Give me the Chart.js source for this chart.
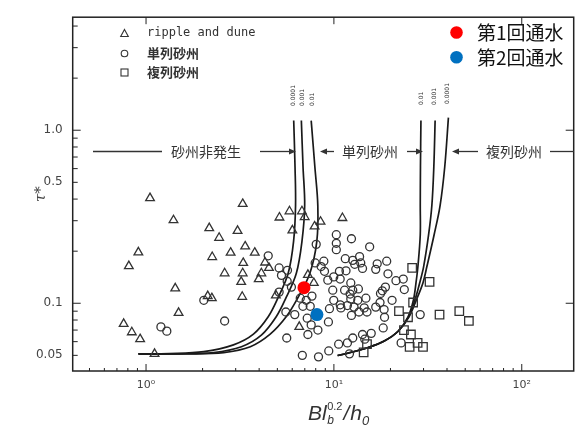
<!DOCTYPE html>
<html>
<head>
<meta charset="utf-8">
<script src="https://cdn.jsdelivr.net/npm/chart.js@4.4.1/dist/chart.umd.min.js"></script>
<style>
html, body { margin: 0; padding: 0; background: #fff; }
#wrap { width: 581px; height: 429px; position: relative; }
</style>
</head>
<body>
<div id="wrap"><canvas id="chart"></canvas></div>
<script>
// ripple and dune (三角)
var rippleX = [1.05, 3.27, 1.40, 2.17, 2.45, 3.07, 0.91, 0.81, 2.25, 2.82, 3.37, 3.79, 3.29, 2.62, 3.27, 3.21, 4.11, 3.98, 4.30, 4.51,
               1.43, 2.13, 2.24, 3.25, 1.49, 0.76, 0.84, 0.93, 1.11, 5.13, 5.80, 6.76, 6.99, 6.01, 4.91, 6.54, 7.27, 7.89, 7.82, 8.49, 11.1];
var rippleY = [0.405, 0.375, 0.302, 0.272, 0.239, 0.262, 0.197, 0.164, 0.185, 0.196, 0.213, 0.196, 0.171, 0.149, 0.149, 0.133, 0.149, 0.138, 0.172, 0.160,
               0.122, 0.110, 0.107, 0.109, 0.088, 0.076, 0.068, 0.062, 0.051, 0.313, 0.340, 0.340, 0.315, 0.264, 0.111, 0.073, 0.146, 0.278, 0.131, 0.296, 0.311];

// 単列砂州 (丸)
var singleX = [4.47, 2.03, 2.62, 1.20, 1.29, 5.11, 5.26, 5.66, 5.64, 5.94, 5.11, 5.55, 6.19, 5.61, 6.79, 6.62, 7.12, 7.64, 6.84, 7.48,
               7.21, 7.57, 8.05, 7.95, 10.3, 12.4, 10.3, 10.3, 15.5, 11.5, 12.6, 13.7, 13.9, 12.9, 17.0, 19.1, 16.7, 8.84, 8.55, 8.91,
               10.7, 11.6, 14.2, 9.98, 9.28, 10.8, 12.3, 19.4, 21.4, 23.4, 9.86, 11.4, 12.6, 13.5, 18.1, 18.8, 23.7, 14.8, 12.3, 13.4,
               9.98, 10.8, 11.8, 12.8, 14.5, 16.7, 17.6, 20.4, 9.47, 10.9, 12.4, 15.0, 18.5, 18.6, 9.35, 7.27, 8.22, 18.3, 14.2, 15.8,
               14.6, 12.6, 11.8, 10.6, 9.39, 12.1, 8.28, 28.8, 22.8, 12.2, 17.7, 13.6];
var singleY = [0.188, 0.104, 0.079, 0.073, 0.069, 0.160, 0.145, 0.155, 0.134, 0.124, 0.116, 0.089, 0.086, 0.063, 0.050, 0.107, 0.104, 0.110, 0.096, 0.096,
               0.082, 0.075, 0.219, 0.171, 0.249, 0.236, 0.222, 0.204, 0.212, 0.181, 0.177, 0.186, 0.171, 0.168, 0.169, 0.175, 0.157, 0.175, 0.163, 0.153,
               0.153, 0.154, 0.159, 0.142, 0.136, 0.138, 0.131, 0.148, 0.135, 0.138, 0.119, 0.119, 0.119, 0.121, 0.118, 0.124, 0.120, 0.107, 0.106, 0.104,
               0.104, 0.098, 0.097, 0.095, 0.094, 0.095, 0.101, 0.104, 0.093, 0.094, 0.085, 0.089, 0.092, 0.083, 0.078, 0.066, 0.070, 0.072, 0.066, 0.067,
               0.062, 0.063, 0.059, 0.058, 0.053, 0.051, 0.049, 0.086, 0.059, 0.113, 0.114, 0.089];

// 複列砂州 (四角)
var multiX = [26.1, 32.3, 22.2, 24.8, 36.5, 46.5, 52.3, 23.6, 25.7, 25.3, 27.9, 29.8, 14.4, 15.0, 26.4];
var multiY = [0.160, 0.133, 0.090, 0.083, 0.086, 0.090, 0.079, 0.070, 0.066, 0.056, 0.059, 0.056, 0.052, 0.058, 0.101];

// 第1回通水・第2回通水
var run1X = [6.93], run1Y = [0.123];
var run2X = [8.12], run2Y = [0.086];

// 境界線 (左: 砂州非発生/単列砂州, 右: 単列砂州/複列砂州)
var curveNames = ['0.0001', '0.001', '0.01'];
var leftX = [
  [6.11, 6.21, 6.25, 6.10, 5.71, 5.05, 4.47, 3.73, 2.92, 2.03, 1.33, 0.911],
  [6.71, 6.85, 6.99, 6.76, 6.31, 5.57, 4.93, 4.11, 3.22, 2.29, 1.50, 0.911],
  [7.57, 7.92, 8.21, 8.11, 7.45, 6.44, 5.57, 4.58, 3.59, 2.59, 1.69, 0.911]
];
var leftY = [
  [1.137, 0.613, 0.367, 0.228, 0.149, 0.108, 0.0835, 0.0663, 0.0575, 0.0525, 0.0512, 0.051],
  [1.137, 0.613, 0.367, 0.228, 0.149, 0.108, 0.0835, 0.0654, 0.0561, 0.0519, 0.051, 0.051],
  [1.137, 0.613, 0.367, 0.228, 0.149, 0.108, 0.0835, 0.0663, 0.0561, 0.0519, 0.051, 0.051]
];
var rightX = [
  [40.7, 38.9, 36.75, 34.16, 31.26, 29.78, 27.52, 25.12, 21.98, 18.54, 15.08, 11.83, 10.47],
  [34.58, 34.03, 33.22, 31.92, 30.04, 28.61, 27.03, 24.96, 21.98, 18.54, 15.08, 11.83, 10.47],
  [29.06, 28.89, 28.82, 28.82, 28.0, 27.35, 26.53, 24.81, 21.98, 18.54, 15.08, 11.83, 10.47]
];
var rightY = [
  [1.182, 0.613, 0.367, 0.249, 0.163, 0.131, 0.105, 0.0835, 0.0689, 0.0605, 0.0553, 0.0514, 0.0499],
  [1.137, 0.613, 0.367, 0.249, 0.163, 0.131, 0.105, 0.0835, 0.0689, 0.0605, 0.0553, 0.0514, 0.0499],
  [1.137, 0.613, 0.367, 0.249, 0.163, 0.131, 0.105, 0.0835, 0.0689, 0.0605, 0.0553, 0.0514, 0.0499]
];

// 目盛り
var xTickValues = [1, 10, 100];
var xTickText = ['10⁰', '10¹', '10²'];
var xMinorTicks = [0.5, 0.6, 0.7, 0.8, 0.9, 2, 3, 4, 5, 6, 7, 8, 9, 20, 30, 40, 50, 60, 70, 80, 90];
var yTickValues = [0.05, 0.1, 0.5, 1];
var yTickText = ['0.05', '0.1', '0.5', '1.0'];
var yMinorTicks = [0.05, 0.06, 0.07, 0.08, 0.09, 0.2, 0.3, 0.4, 0.5, 0.6, 0.7, 0.8, 0.9, 2, 3, 4];
var yMajorTicks = [0.1, 1];

function pts(xs, ys) {
    return xs.map(function (v, i) { return {x: v, y: ys[i]}; });
}

var ink = '#333';
var datasets = [
    {label: '第1回通水', data: pts(run1X, run1Y), pointStyle: 'circle', pointRadius: 6.5, backgroundColor: '#ff0000', borderColor: '#ff0000', borderWidth: 0},
    {label: '第2回通水', data: pts(run2X, run2Y), pointStyle: 'circle', pointRadius: 6.5, backgroundColor: '#0070c0', borderColor: '#0070c0', borderWidth: 0},
    {label: 'ripple and dune', data: pts(rippleX, rippleY), pointStyle: 'triangle', pointRadius: 5, backgroundColor: 'rgba(255,255,255,0)', borderColor: ink, borderWidth: 1.3},
    {label: '単列砂州', data: pts(singleX, singleY), pointStyle: 'circle', pointRadius: 4, backgroundColor: 'rgba(255,255,255,0)', borderColor: ink, borderWidth: 1.3},
    {label: '複列砂州', data: pts(multiX, multiY), pointStyle: 'rect', pointRadius: 6, backgroundColor: 'rgba(255,255,255,0)', borderColor: ink, borderWidth: 1.3}
];
[leftX, rightX].forEach(function (group, g) {
    var ys = g === 0 ? leftY : rightY;
    group.forEach(function (xs, i) {
        datasets.push({
            label: curveNames[i], data: pts(xs, ys[i]), showLine: true, pointRadius: 0,
            borderColor: '#1a1a1a', borderWidth: 1.7, tension: 0.35, fill: false
        });
    });
});

function arrowHead(ctx, x, y, dir) {
    ctx.beginPath();
    ctx.moveTo(x, y);
    ctx.lineTo(x - dir * 7, y - 3);
    ctx.lineTo(x - dir * 7, y + 3);
    ctx.closePath();
    ctx.fill();
}
function hline(ctx, x1, x2, y) {
    ctx.beginPath(); ctx.moveTo(x1, y); ctx.lineTo(x2, y); ctx.stroke();
}

// 枠・目盛り・注記
var decor = {
    id: 'decor',
    afterDraw: function (chart) {
        var ctx = chart.ctx, a = chart.chartArea, x = chart.scales.x, y = chart.scales.y;
        ctx.save();
        ctx.strokeStyle = '#222';
        ctx.lineWidth = 1.5;
        ctx.strokeRect(a.left, a.top, a.right - a.left, a.bottom - a.top);
        ctx.lineWidth = 1;
        ctx.beginPath();
        xMinorTicks.forEach(function (v) {
            var p = x.getPixelForValue(v);
            ctx.moveTo(p, a.bottom); ctx.lineTo(p, a.bottom - 3);
        });
        xTickValues.forEach(function (v) {
            var p = x.getPixelForValue(v);
            ctx.moveTo(p, a.bottom); ctx.lineTo(p, a.bottom - 7);
            ctx.moveTo(p, a.top); ctx.lineTo(p, a.top + 7);
        });
        yMinorTicks.forEach(function (v) {
            var p = y.getPixelForValue(v);
            ctx.moveTo(a.left, p); ctx.lineTo(a.left + 5, p);
        });
        yMajorTicks.forEach(function (v) {
            var p = y.getPixelForValue(v);
            ctx.moveTo(a.left, p); ctx.lineTo(a.left + 8, p);
            ctx.moveTo(a.right, p); ctx.lineTo(a.right - 8, p);
        });
        ctx.stroke();

        // 領域の注記
        ctx.fillStyle = '#333';
        ctx.strokeStyle = '#333';
        ctx.lineWidth = 1.3;
        var ry = 151.5;
        hline(ctx, 93, 162, ry);
        hline(ctx, 260, 290, ry); arrowHead(ctx, 296, ry, 1);
        arrowHead(ctx, 320, ry, -1); hline(ctx, 326, 334, ry);
        hline(ctx, 407, 417, ry); arrowHead(ctx, 423, ry, 1);
        arrowHead(ctx, 452, ry, -1); hline(ctx, 458, 478, ry);
        hline(ctx, 550, 574, ry);
        ctx.font = '14px "Noto Sans CJK JP"';
        ctx.textAlign = 'center';
        ctx.textBaseline = 'middle';
        ctx.fillText('砂州非発生', 206, ry);
        ctx.fillText('単列砂州', 370, ry);
        ctx.fillText('複列砂州', 514, ry);

        // 曲線のラベル
        ctx.font = '6px "DejaVu Sans"';
        ctx.textAlign = 'left';
        [[293.5, 106, 0], [302, 106, 1], [312.5, 106, 2], [421, 105, 2], [434.5, 105, 1], [447.5, 104, 0]].forEach(function (c) {
            ctx.save();
            ctx.translate(c[0], c[1]);
            ctx.rotate(-Math.PI / 2);
            ctx.fillText(curveNames[c[2]], 0, 0);
            ctx.restore();
        });

        // 凡例 (左上)
        ctx.strokeStyle = ink;
        ctx.lineWidth = 1.1;
        var lx = 124.5;
        ctx.beginPath();
        ctx.moveTo(lx, 29.5); ctx.lineTo(lx + 3.8, 36.5); ctx.lineTo(lx - 3.8, 36.5); ctx.closePath();
        ctx.stroke();
        ctx.beginPath(); ctx.arc(lx, 53.5, 3.3, 0, Math.PI * 2); ctx.stroke();
        ctx.strokeRect(lx - 3.5, 69, 7, 7);
        ctx.fillStyle = '#333';
        ctx.textBaseline = 'middle';
        ctx.font = '12px "DejaVu Sans Mono"';
        ctx.fillText('ripple and dune', 147, 33);
        ctx.font = 'bold 13px "Noto Sans CJK JP"';
        ctx.fillText('単列砂州', 147, 53.5);
        ctx.fillText('複列砂州', 147, 72.5);

        // 凡例 (右上)
        ctx.fillStyle = datasets[0].backgroundColor;
        ctx.beginPath(); ctx.arc(456.5, 32.5, 6.3, 0, Math.PI * 2); ctx.fill();
        ctx.fillStyle = datasets[1].backgroundColor;
        ctx.beginPath(); ctx.arc(456.5, 57.3, 6.3, 0, Math.PI * 2); ctx.fill();
        ctx.fillStyle = '#111';
        ctx.font = '19px "Noto Sans CJK JP"';
        ctx.fillText(datasets[0].label, 477, 33);
        ctx.fillText(datasets[1].label, 477, 57.5);

        // 横軸タイトル Bl_b^0.2/h_0
        ctx.fillStyle = '#333';
        ctx.textBaseline = 'alphabetic';
        var big = 'italic 21px "Liberation Sans"', small = 'italic 12px "Liberation Sans"', sup = '11px "Liberation Sans"';
        var tx = 308, base = 420;
        ctx.font = big; ctx.fillText('Bl', tx, base); tx += ctx.measureText('Bl').width + 0.5;
        ctx.font = small; ctx.fillText('b', tx, base + 4); var wb = ctx.measureText('b').width;
        ctx.font = sup; ctx.fillText('0.2', tx, base - 10); var ws = ctx.measureText('0.2').width;
        tx += Math.max(wb, ws) + 1;
        ctx.font = big; ctx.fillText('/', tx, base); tx += ctx.measureText('/').width + 1;
        ctx.fillText('h', tx, base); tx += ctx.measureText('h').width;
        ctx.font = 'italic 13px "Liberation Sans"'; ctx.fillText('0', tx, base + 5);
        ctx.restore();
    }
};

var chart = new Chart(document.getElementById('chart'), {
    type: 'scatter',
    data: {datasets: datasets},
    options: {
        responsive: true,
        maintainAspectRatio: false,
        animation: false,
        devicePixelRatio: 1,
        events: [],
        layout: {padding: {left: 0, right: 2.7, top: 5, bottom: 0}},
        plugins: {
            legend: {display: false},
            tooltip: {enabled: false}
        },
        scales: {
            x: {
                type: 'logarithmic',
                min: 0.407,
                max: 189,
                grid: {display: false, drawTicks: false},
                border: {display: false},
                afterBuildTicks: function (s) { s.ticks = xTickValues.map(function (v) { return {value: v}; }); },
                afterFit: function (s) { s.height = 58; },
                ticks: {
                    autoSkip: false, maxRotation: 0, padding: 8, color: '#444',
                    font: {size: 11, family: 'DejaVu Sans'},
                    callback: function (v, i) { return xTickText[i]; }
                }
            },
            y: {
                type: 'logarithmic',
                min: 0.0406,
                max: 4.5,
                grid: {display: false, drawTicks: false},
                border: {display: false},
                afterBuildTicks: function (s) { s.ticks = yTickValues.map(function (v) { return {value: v}; }); },
                afterFit: function (s) { s.width = 72.7; },
                ticks: {
                    autoSkip: false, padding: 10, color: '#444',
                    font: {size: 12, family: 'DejaVu Sans'},
                    callback: function (v, i) { return yTickText[i]; }
                },
                title: {
                    display: true, text: 'τ*', color: '#444',
                    font: {size: 15, family: 'DejaVu Serif', style: 'italic'},
                    padding: {top: 32, bottom: 0}
                }
            }
        }
    },
    plugins: [decor]
});
</script>
</body>
</html>
